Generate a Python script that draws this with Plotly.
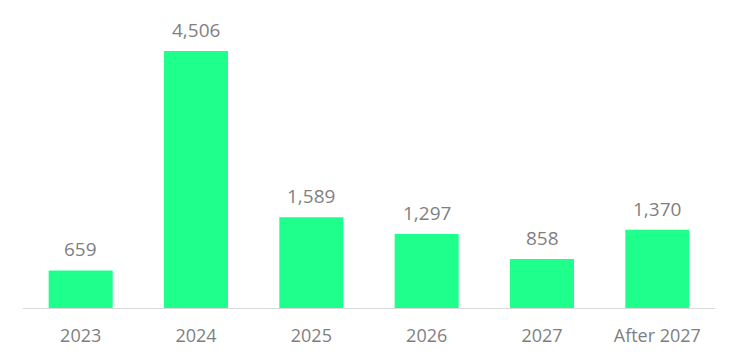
import plotly.graph_objects as go

categories = ["2023", "2024", "2025", "2026", "2027", "After 2027"]
values = [659, 4506, 1589, 1297, 858, 1370]
labels = [f"{v:,}" for v in values]

fig = go.Figure(go.Bar(
    x=categories, y=values,
    marker=dict(color="#1EFF8C", line=dict(width=0)),
    cliponaxis=False, width=0.555,
))
for i, (v, t) in enumerate(zip(values, labels)):
    fig.add_annotation(x=i, y=v, text=t, showarrow=False, yanchor="bottom",
                       yshift=6, font=dict(size=19, color="#7F7F7F", family="Open Sans"))
fig.update_layout(
    width=738, height=361,
    margin=dict(l=15, r=31, t=0, b=61, autoexpand=False),
    plot_bgcolor="white", paper_bgcolor="white",
    showlegend=False,
    font=dict(family="Open Sans", color="#7F7F7F", size=18),
)
fig.update_xaxes(type="category", categoryorder="array", categoryarray=categories,
                 range=[-0.5, len(categories) - 0.5],
                 showline=True, linecolor="#D9D9D9", linewidth=1,
                 ticks="outside", ticklen=11, tickcolor="rgba(0,0,0,0)",
                 tickfont=dict(size=18, color="#7F7F7F"), showgrid=False,
                 automargin=False)
fig.update_yaxes(visible=False, range=[0, 5260], showgrid=False, zeroline=False)
fig.write_html("out.html")
